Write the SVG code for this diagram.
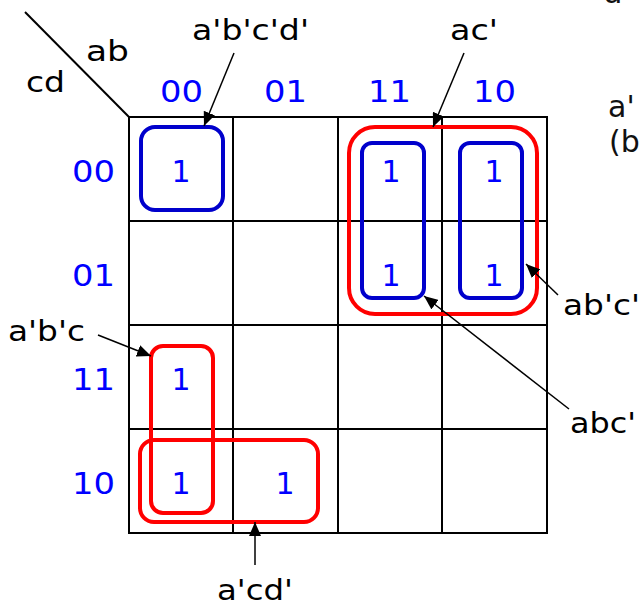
<svg xmlns="http://www.w3.org/2000/svg" width="639" height="604" viewBox="0 0 639 604">
<defs>
<marker id="ah" markerUnits="userSpaceOnUse" markerWidth="14" markerHeight="12" viewBox="0 0 14 12" refX="14" refY="6" orient="auto">
<path d="M0,0 L14,6 L0,12 z" fill="#000"/>
</marker>
<style>
.grid{stroke:#000;stroke-width:2;fill:none}
.lbl{font-family:"DejaVu Sans",Verdana,sans-serif;font-size:28px;fill:#000}
.hdr{font-family:"DejaVu Sans",Verdana,sans-serif;font-size:30px;fill:#0000FF}
.one{font-family:"DejaVu Sans",Verdana,sans-serif;font-size:30px;fill:#0000FF;text-anchor:middle}
.blue{fill:none;stroke:#0000CC;stroke-width:4}
.red{fill:none;stroke:#FF0000;stroke-width:4}
.conn{stroke:#000;stroke-width:1.5;fill:none;marker-end:url(#ah)}
.side{font-family:"DejaVu Sans",Verdana,sans-serif;font-size:30px;fill:#111}
</style>
</defs>
<rect width="639" height="604" fill="#fff"/>
<g id="map">
<line class="grid" x1="25" y1="12" x2="129" y2="117"/>
<rect class="grid" x="129" y="117" width="418" height="416"/>
<line class="grid" x1="233" y1="117" x2="233" y2="533"/>
<line class="grid" x1="338" y1="117" x2="338" y2="533"/>
<line class="grid" x1="442" y1="117" x2="442" y2="533"/>
<line class="grid" x1="129" y1="221" x2="547" y2="221"/>
<line class="grid" x1="129" y1="325" x2="547" y2="325"/>
<line class="grid" x1="129" y1="429" x2="547" y2="429"/>
</g>
<g id="axis-labels">
<text class="lbl" x="86" y="61" textLength="43" lengthAdjust="spacingAndGlyphs">ab</text>
<text class="lbl" x="26" y="92" textLength="39" lengthAdjust="spacingAndGlyphs">cd</text>
</g>
<g id="col-headers">
<text class="hdr" x="160" y="102" textLength="43" lengthAdjust="spacingAndGlyphs">00</text>
<text class="hdr" x="264" y="102" textLength="43" lengthAdjust="spacingAndGlyphs">01</text>
<text class="hdr" x="368" y="102" textLength="43" lengthAdjust="spacingAndGlyphs">11</text>
<text class="hdr" x="473" y="102" textLength="43" lengthAdjust="spacingAndGlyphs">10</text>
</g>
<g id="row-headers">
<text class="hdr" x="72" y="182" textLength="43" lengthAdjust="spacingAndGlyphs">00</text>
<text class="hdr" x="72" y="286" textLength="43" lengthAdjust="spacingAndGlyphs">01</text>
<text class="hdr" x="72" y="390" textLength="43" lengthAdjust="spacingAndGlyphs">11</text>
<text class="hdr" x="72" y="494" textLength="43" lengthAdjust="spacingAndGlyphs">10</text>
</g>
<g id="cells">
<text class="one" x="181" y="182">1</text>
<text class="one" x="391" y="182">1</text>
<text class="one" x="494" y="182">1</text>
<text class="one" x="391" y="286">1</text>
<text class="one" x="494" y="286">1</text>
<text class="one" x="181" y="390">1</text>
<text class="one" x="181" y="494">1</text>
<text class="one" x="285" y="494">1</text>
</g>
<g id="group-abcd">
<rect class="blue" x="141" y="127" width="82" height="83" rx="14"/>
</g>
<g id="group-ac">
<rect class="red" x="349" y="127" width="188" height="187" rx="26"/>
</g>
<g id="group-abc">
<rect class="blue" x="362" y="143" width="62" height="155" rx="10"/>
</g>
<g id="group-abc2">
<rect class="blue" x="460" y="143" width="62" height="155" rx="10"/>
</g>
<g id="group-a-b-c">
<rect class="red" x="151" y="346" width="62" height="167" rx="12"/>
</g>
<g id="group-acd">
<rect class="red" x="140" y="440" width="178" height="82" rx="14"/>
</g>
<g id="connectors">
<line class="conn" x1="234" y1="53" x2="204" y2="126"/>
<line class="conn" x1="464" y1="53" x2="433" y2="127"/>
<line class="conn" x1="98" y1="335" x2="151" y2="356"/>
<line class="conn" x1="255" y1="565" x2="255" y2="522"/>
<line class="conn" x1="558" y1="295" x2="526" y2="264"/>
<line class="conn" x1="569" y1="409" x2="424" y2="296"/>
</g>
<g id="labels">
<text class="lbl" x="192" y="40" textLength="117" lengthAdjust="spacingAndGlyphs">a'b'c'd'</text>
<text class="lbl" x="450" y="40" textLength="48" lengthAdjust="spacingAndGlyphs">ac'</text>
<text class="lbl" x="8" y="341" textLength="77" lengthAdjust="spacingAndGlyphs">a'b'c</text>
<text class="lbl" x="217" y="600" textLength="76" lengthAdjust="spacingAndGlyphs">a'cd'</text>
<text class="lbl" x="563" y="315" textLength="77" lengthAdjust="spacingAndGlyphs">ab'c'</text>
<text class="lbl" x="570" y="433" textLength="66" lengthAdjust="spacingAndGlyphs">abc'</text>
</g>
<g id="side-text">
<text class="side" x="604" y="3">a'</text>
<text class="side" x="608" y="117">a'</text>
<text class="side" x="609" y="152">(b</text>
</g>
</svg>
